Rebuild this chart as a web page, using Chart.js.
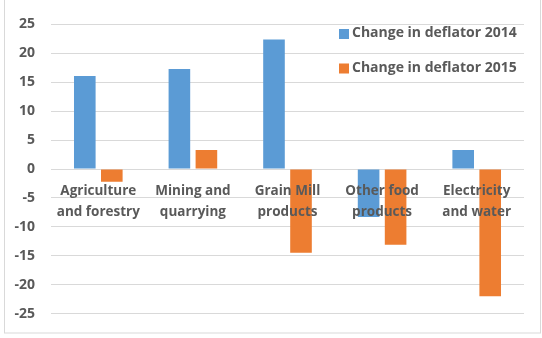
<!DOCTYPE html>
<html>
<head>
<meta charset="utf-8">
<script src="https://cdn.jsdelivr.net/npm/chart.js@4/dist/chart.umd.min.js"></script>
<style>
  html, body { margin: 0; padding: 0; background: #ffffff; }
  #wrap { position: relative; width: 542px; height: 338px; }
</style>
</head>
<body>
<div id="wrap"><canvas id="chart" width="542" height="338"></canvas></div>
<script>
// Sector categories (two-line labels)
const categories = [
  ['Agriculture', 'and forestry'],
  ['Mining and', 'quarrying'],
  ['Grain Mill', 'products'],
  ['Other food', 'products'],
  ['Electricity', 'and water']
];

// Percentage change in the price deflator
const deflator2014 = [16.1, 17.3, 22.4, -8.3, 3.3];
const deflator2015 = [-2.2, 3.3, -14.5, -13.1, -22.0];

const seriesLabels = ['Change in deflator 2014', 'Change in deflator 2015'];
const yTicks = [25, 20, 15, 10, 5, 0, -5, -10, -15, -20, -25];

const TEXT = '#595959';
const FONT = '"Open Sans", "Noto Sans", sans-serif';

// Frame around the whole chart
const framePlugin = {
  id: 'frame',
  beforeDraw(chart) {
    const c = chart.ctx;
    c.save();
    c.strokeStyle = '#d9d9d9';
    c.lineWidth = 1;
    c.strokeRect(4.5, -0.5, 536, 333.5);
    c.restore();
  }
};

// Legend drawn inside the plot area, top right
const insideLegend = {
  id: 'insideLegend',
  afterDraw(chart) {
    const c = chart.ctx;
    c.save();
    c.font = 'bold 14px ' + FONT;
    c.textBaseline = 'middle';
    c.textAlign = 'left';
    chart.data.datasets.forEach((ds, i) => {
      const yc = 33.5 + i * 34.5;
      c.fillStyle = ds.backgroundColor;
      c.fillRect(339, yc - 4.5, 10, 10);
      c.fillStyle = TEXT;
      c.fillText(ds.label, 352, yc);
    });
    c.restore();
  }
};

new Chart(document.getElementById('chart'), {
  type: 'bar',
  data: {
    labels: categories,
    datasets: [
      { label: seriesLabels[0], data: deflator2014, backgroundColor: '#5B9BD5',
        categoryPercentage: 0.571, barPercentage: 0.8 },
      { label: seriesLabels[1], data: deflator2015, backgroundColor: '#ED7D31',
        categoryPercentage: 0.571, barPercentage: 0.8 }
    ]
  },
  options: {
    responsive: false,
    animation: false,
    events: [],
    layout: { padding: { left: 0, right: 18, top: 13, bottom: 15 } },
    plugins: {
      legend: { display: false },
      tooltip: { enabled: false }
    },
    scales: {
      x: {
        position: { y: 0 },
        grid: { display: false, drawTicks: false },
        border: { display: false },
        ticks: {
          z: 1,
          color: TEXT,
          padding: 12,
          maxRotation: 0,
          autoSkip: false,
          font: { family: FONT, size: 13.5, weight: 'bold', lineHeight: 1.55 }
        }
      },
      y: {
        min: -25,
        max: 25,
        afterFit(scale) { scale.width = 51; },
        afterBuildTicks(scale) { scale.ticks = yTicks.map(v => ({ value: v })); },
        grid: { color: '#d9d9d9', lineWidth: 1, drawTicks: false },
        border: { display: false },
        ticks: {
          color: TEXT,
          padding: 16,
          font: { family: FONT, size: 14, weight: 'bold' }
        }
      }
    }
  },
  plugins: [framePlugin, insideLegend]
});
</script>
</body>
</html>
